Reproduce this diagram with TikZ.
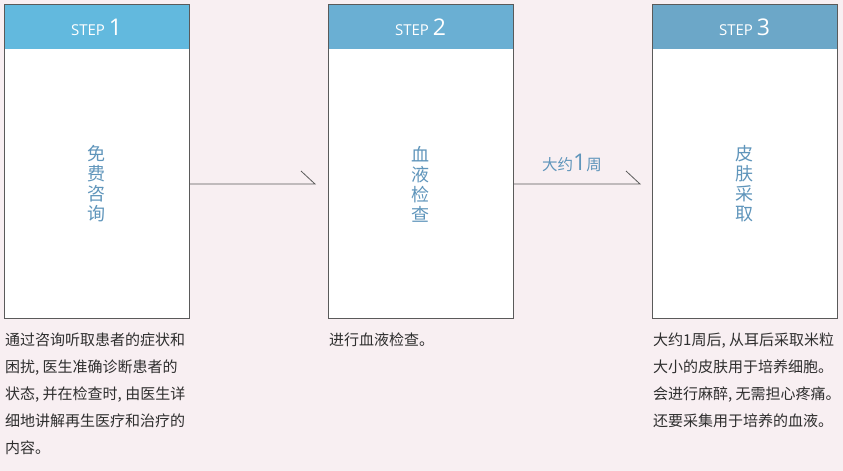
\documentclass[tikz,border=0pt]{standalone}
\usepackage{fontspec}
\setmainfont{Open Sans}
\newfontfamily\cjk{Noto Sans CJK SC}[Scale=1]
\definecolor{bg}{HTML}{F8EFF2}
\definecolor{hA}{HTML}{62B9DE}
\definecolor{hB}{HTML}{6AAFD3}
\definecolor{hC}{HTML}{6CA7C8}
\definecolor{vt}{HTML}{5F95BB}
\definecolor{bd}{HTML}{5A5A5A}
\definecolor{tx}{HTML}{2E2E2E}
\begin{document}
\begin{tikzpicture}[x=1pt,y=-1pt,
  card/.style={draw=bd,fill=white,line width=0.9pt},
  steplbl/.style={text=white,font=\fontsize{15}{15}\selectfont,anchor=center},
  vlabel/.style={text=vt,font=\cjk\fontsize{18}{20}\selectfont,align=center,anchor=center},
  desc/.style={text=tx,font=\cjk\fontsize{15}{27}\selectfont,align=left,anchor=north west,inner sep=0pt},
  conn/.style={draw=bd,line width=0.8pt}]
\fill[bg] (0,0) rectangle (843,471);
\useasboundingbox (0,0) rectangle (843,471);
% cards
\foreach \i/\x/\c in {1/4/hA,2/328/hB,3/652/hC}{
  \draw[card] (\x,4) rectangle (\x+185,318);
  \fill[\c] (\x+0.45,4.45) rectangle (\x+184.55,49);
  \draw[bd,line width=0.9pt] (\x,4) rectangle (\x+185,318);
}
\node[steplbl] (s1) at (96.5,27) {STEP \fontsize{23}{23}\selectfont 1};
\node[steplbl] (s2) at (420.5,27) {STEP \fontsize{23}{23}\selectfont 2};
\node[steplbl] (s3) at (744.5,27) {STEP \fontsize{23}{23}\selectfont 3};
\coordinate (c1r) at (189,184);
\coordinate (c2l) at (315,184);
\coordinate (c2r) at (513,184);
\coordinate (c3l) at (640,184);
\node[vlabel] (v1) at (96.5,184) {免\\费\\咨\\询};
\node[vlabel] (v2) at (420.5,184) {血\\液\\检\\查};
\node[vlabel] (v3) at (744.5,184) {皮\\肤\\采\\取};
\draw[conn] (c1r) -- (c2l) -- ++(-14,-13);
\draw[conn] (c2r) -- (c3l) -- ++(-14,-13);
\node[text=vt,font=\cjk\fontsize{15.5}{15}\selectfont] (lbl) at (572,163) {大约{\fontspec{Open Sans}\fontsize{23}{23}\selectfont 1}周};
\node[desc] (d1) at (5,333) {通过咨询听取患者的症状和\\困扰, 医生准确诊断患者的\\状态, 并在检查时, 由医生详\\细地讲解再生医疗和治疗的\\内容。};
\node[desc] (d2) at (329,333) {进行血液检查。};
\node[desc] (d3) at (653,333) {大约1周后, 从耳后采取米粒\\大小的皮肤用于培养细胞。\\会进行麻醉, 无需担心疼痛。\\还要采集用于培养的血液。};
\end{tikzpicture}
\end{document}
